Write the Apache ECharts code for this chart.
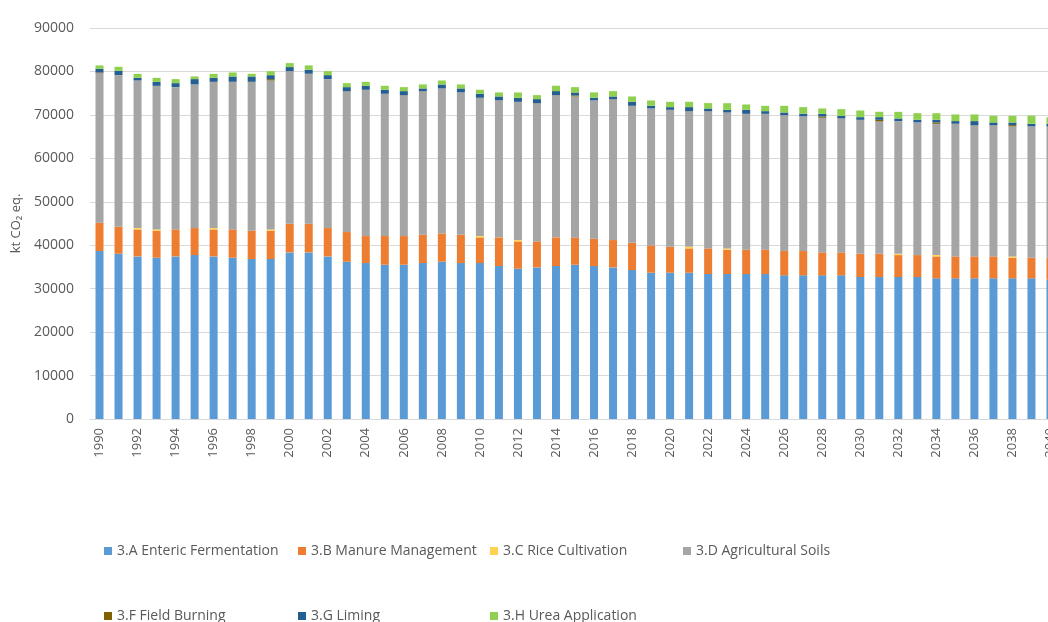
<!DOCTYPE html>
<html>
<head>
<meta charset="utf-8">
<script src="https://cdn.jsdelivr.net/npm/echarts@6/dist/echarts.min.js"></script>
<style>
  html, body { margin: 0; padding: 0; background: #fff; }
  #chart { width: 1048px; height: 622px; }
</style>
</head>
<body>
<div id="chart"></div>
<script>
// years on the x axis
const years = [
  '1990', '1991', '1992', '1993', '1994', '1995', '1996', '1997', '1998', '1999',
  '2000', '2001', '2002', '2003', '2004', '2005', '2006', '2007', '2008', '2009',
  '2010', '2011', '2012', '2013', '2014', '2015', '2016', '2017', '2018', '2019',
  '2020', '2021', '2022', '2023', '2024', '2025', '2026', '2027', '2028', '2029',
  '2030', '2031', '2032', '2033', '2034', '2035', '2036', '2037', '2038', '2039',
  '2040'
]

// kt CO2 eq. per sub-sector
const enteric = [
  38660, 38040, 37430, 37120, 37430, 37740, 37430, 37120, 36820, 36820,
  38350, 38350, 37430, 36200, 35900, 35510, 35510, 35900, 36200, 35900,
  35900, 35210, 34590, 34900, 35210, 35510, 35210, 34900, 34280, 33670,
  33670, 33670, 33360, 33360, 33360, 33360, 33060, 33060, 33060, 33060,
  32670, 32670, 32670, 32670, 32370, 32370, 32370, 32370, 32370, 32370,
  32060
]
const manure = [
  6520, 6210, 6210, 6210, 6210, 6210, 6210, 6520, 6520, 6520,
  6600, 6600, 6520, 6830, 6210, 6600, 6600, 6520, 6520, 6520,
  5910, 6600, 6290, 5980, 6600, 6290, 6290, 6290, 6290, 6290,
  5980, 5600, 5910, 5600, 5600, 5600, 5600, 5600, 5290, 5290,
  5370, 5370, 5060, 5060, 5060, 5060, 5060, 5060, 4760, 4760,
  5060
]
const rice = [
  0, 0, 300, 300, 0, 0, 300, 0, 0, 300,
  0, 0, 0, 0, 0, 0, 0, 0, 0, 0,
  300, 0, 300, 0, 0, 0, 0, 0, 0, 0,
  0, 380, 0, 300, 0, 0, 0, 0, 0, 0,
  0, 0, 300, 0, 300, 0, 0, 0, 300, 0,
  0
]
const soils = [
  34440, 34900, 33980, 33060, 32750, 33060, 33670, 33980, 34280, 34280,
  35130, 34520, 34280, 32440, 33670, 32750, 32440, 33060, 33360, 32750,
  31830, 31520, 31830, 31830, 32750, 32440, 31830, 32440, 31520, 31520,
  31520, 31220, 31600, 31290, 31290, 31290, 31290, 30990, 30990, 30830,
  30830, 30530, 30530, 30530, 30220, 30530, 30220, 30220, 29910, 30220,
  30220
]
const burning = [
  150, 0, 0, 0, 0, 0, 0, 0, 0, 300,
  0, 0, 0, 0, 0, 0, 0, 0, 0, 0,
  0, 0, 0, 0, 0, 230, 0, 0, 0, 0,
  0, 0, 0, 0, 0, 0, 0, 0, 300, 0,
  0, 300, 0, 0, 300, 0, 0, 0, 300, 0,
  0
]
const liming = [
  840, 1000, 610, 920, 920, 1230, 920, 1230, 1230, 920,
  920, 920, 920, 920, 920, 920, 920, 610, 920, 920,
  920, 920, 920, 920, 920, 690, 610, 610, 920, 610,
  610, 920, 610, 610, 920, 610, 610, 610, 610, 610,
  610, 610, 610, 610, 610, 610, 920, 610, 610, 610,
  610
]
const urea = [
  770, 920, 920, 920, 920, 610, 920, 920, 610, 920,
  920, 1000, 920, 920, 920, 920, 920, 920, 920, 920,
  920, 920, 1230, 920, 1230, 1230, 1230, 1230, 1230, 1230,
  1230, 1230, 1230, 1530, 1230, 1230, 1530, 1530, 1230, 1530,
  1530, 1230, 1530, 1530, 1530, 1530, 1530, 1530, 1530, 1860,
  1530
]

const seriesNames = [
  '3.A Enteric Fermentation',
  '3.B Manure Management',
  '3.C Rice Cultivation',
  '3.D Agricultural Soils',
  '3.F Field Burning',
  '3.G Liming',
  '3.H Urea Application'
]
const seriesData = [enteric, manure, rice, soils, burning, liming, urea]
const colors = ['#5b9bd5', '#ed7d31', '#ffd34f', '#a5a5a5', '#7f6000', '#255e91', '#8fd14f']

// legend positions (two rows, like the excel legend)
const legendPos = [
  [104, 544], [298, 544], [490, 544], [683, 544],
  [104, 609], [298, 609], [490, 609]
]

const myChart = echarts.init(document.getElementById('chart'))

const option = {
  animation: false,
  textStyle: { fontFamily: 'Open Sans' },
  color: colors,
  grid: {
    left: 90,
    right: -12,
    top: 28,
    bottom: 203,
    outerBoundsMode: 'none'
  },
  legend: seriesNames.map((name, i) => ({
    data: [name],
    left: legendPos[i][0],
    top: legendPos[i][1],
    padding: 0,
    itemWidth: 8,
    itemHeight: 8,
    itemGap: 0,
    icon: 'rect',
    textStyle: { color: '#595959', fontSize: 14, fontFamily: 'Open Sans' }
  })),
  xAxis: {
    type: 'category',
    data: years,
    axisLine: { lineStyle: { color: '#d9d9d9' } },
    axisTick: { show: false },
    axisLabel: {
      rotate: 90,
      interval: 1,
      margin: 9,
      color: '#595959',
      fontSize: 13
    }
  },
  yAxis: {
    type: 'value',
    min: 0,
    max: 90000,
    interval: 10000,
    name: 'kt CO₂ eq.',
    nameLocation: 'middle',
    nameGap: 62,
    nameTextStyle: { color: '#595959', fontSize: 13 },
    axisLine: { show: false },
    axisTick: { show: false },
    axisLabel: {
      color: '#595959',
      fontSize: 14,
      margin: 16,
      formatter: (v) => String(v)
    },
    splitLine: { lineStyle: { color: '#d9d9d9' } }
  },
  series: seriesNames.map((name, i) => ({
    name: name,
    type: 'bar',
    stack: 'total',
    barWidth: 8,
    data: seriesData[i]
  }))
}

myChart.setOption(option)
</script>
</body>
</html>
